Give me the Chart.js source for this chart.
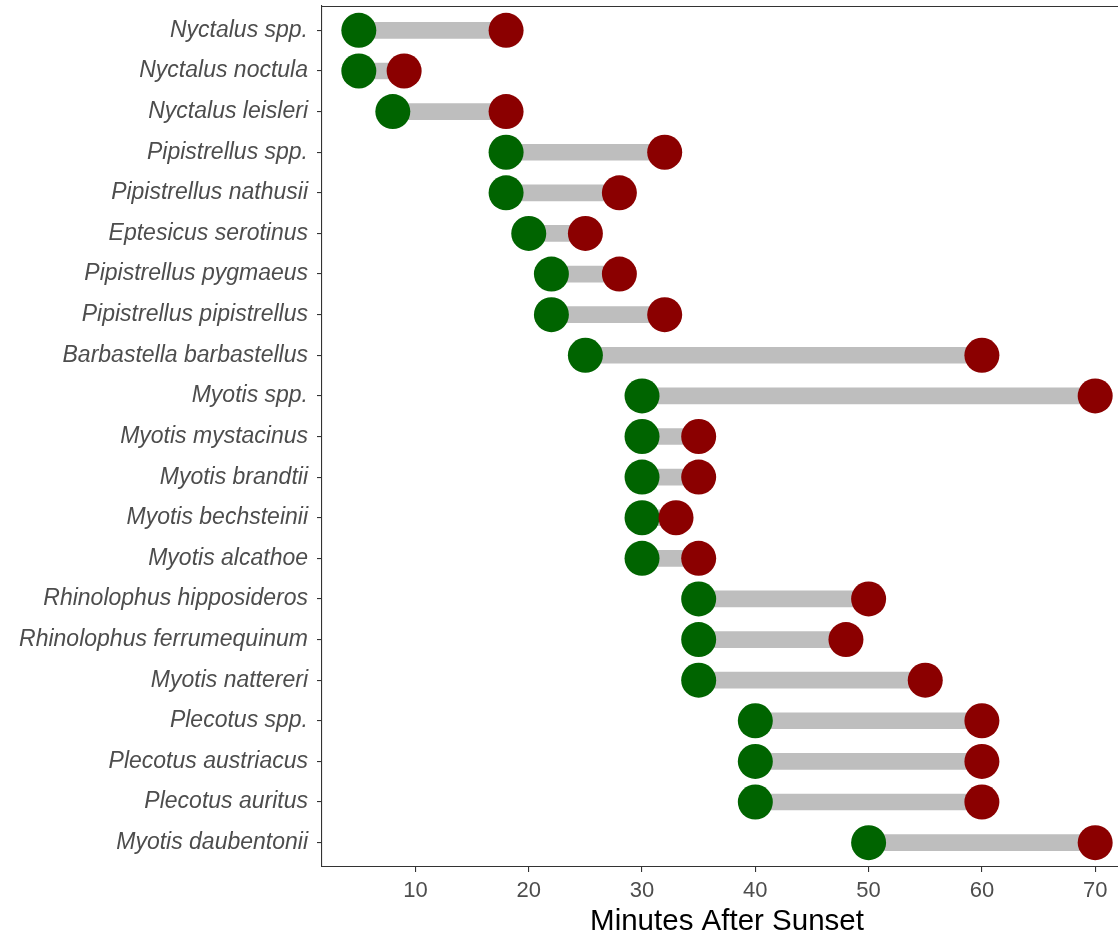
<!DOCTYPE html>
<html><head><meta charset="utf-8">
<script src="https://cdn.jsdelivr.net/npm/chart.js@4/dist/chart.umd.min.js"></script>
<style>
html,body{margin:0;padding:0;background:#fff;overflow:hidden;}
#wrap{width:1118px;height:937px;overflow:hidden;position:relative;}
canvas{display:block;}
</style></head>
<body><div id="wrap"><canvas id="c" width="1140" height="937"></canvas></div>
<script>
const species = ["Nyctalus spp.","Nyctalus noctula","Nyctalus leisleri","Pipistrellus spp.","Pipistrellus nathusii","Eptesicus serotinus","Pipistrellus pygmaeus","Pipistrellus pipistrellus","Barbastella barbastellus","Myotis spp.","Myotis mystacinus","Myotis brandtii","Myotis bechsteinii","Myotis alcathoe","Rhinolophus hipposideros","Rhinolophus ferrumequinum","Myotis nattereri","Plecotus spp.","Plecotus austriacus","Plecotus auritus","Myotis daubentonii"];
const firstEmergence = [5,5,8,18,18,20,22,22,25,30,30,30,30,30,35,35,35,40,40,40,50];
const lastEmergence  = [18,9,18,32,28,25,28,32,60,70,35,35,33,35,50,48,55,60,60,60,70];
const xTicks = [10,20,30,40,50,60,70];
const xTitle = "Minutes After Sunset";

const rowPos = species.map((s,i)=>i+1);
const FONT = '"Liberation Sans", Arial, sans-serif';

const framePlugin = {
  id:'frame',
  afterDraw(chart){
    const {ctx, chartArea:a} = chart;
    ctx.save();
    ctx.strokeStyle = '#333333';
    ctx.lineWidth = 1.1;
    ctx.beginPath();
    ctx.moveTo(a.left, a.top+0.5); ctx.lineTo(a.right, a.top+0.5);
    ctx.moveTo(a.right-0.5, a.top); ctx.lineTo(a.right-0.5, a.bottom);
    ctx.stroke();
    ctx.restore();
  }
};

new Chart(document.getElementById('c'), {
  type:'bar',
  data:{
    datasets:[
      {type:'line', label:'last', data: rowPos.map((y,i)=>({x:lastEmergence[i], y})), showLine:false,
       pointRadius:17.5, pointHoverRadius:17.5, pointBackgroundColor:'#8B0000', pointBorderWidth:0, borderWidth:0, order:0, clip:false},
      {type:'line', label:'first', data: rowPos.map((y,i)=>({x:firstEmergence[i], y})), showLine:false,
       pointRadius:17.5, pointHoverRadius:17.5, pointBackgroundColor:'#006400', pointBorderWidth:0, borderWidth:0, order:1, clip:false},
      {type:'bar', label:'range', data: rowPos.map((y,i)=>({x:[firstEmergence[i], lastEmergence[i]], y})),
       backgroundColor:'#BEBEBE', borderWidth:0, barThickness:16, grouped:false, order:2}
    ]
  },
  options:{
    indexAxis:'y',
    responsive:false,
    animation:false,
    events:[],
    layout:{autoPadding:false, padding:{top:6, left:0, right:8, bottom:0}},
    plugins:{legend:{display:false}, tooltip:{enabled:false}},
    scales:{
      x:{
        type:'linear', min:1.75, max:73.25, offset:false,
        afterBuildTicks(s){ s.ticks = xTicks.map(v=>({value:v})); },
        afterFit(s){ s.height = 70; },
        grid:{display:true, offset:false, drawOnChartArea:false, tickLength:5, color:'#333333', lineWidth:1.1},
        border:{display:true, color:'#333333', width:1.1},
        ticks:{color:'#4D4D4D', font:{family:FONT, size:22}, padding:6, maxRotation:0},
        title:{display:true, text:xTitle, color:'#000000', font:{family:FONT, size:29.5, lineHeight:1}, padding:{top:0,bottom:0}}
      },
      y:{
        type:'linear', min:0.4, max:21.6, reverse:true, offset:false,
        afterBuildTicks(s){ s.ticks = rowPos.map(v=>({value:v})); },
        afterFit(s){ s.width = 322; s.paddingTop = 0; s.paddingBottom = 0; },
        grid:{display:true, offset:false, drawOnChartArea:false, tickLength:5, color:'#333333', lineWidth:1.1},
        border:{display:true, color:'#333333', width:1.1},
        ticks:{color:'#4D4D4D', font:{family:FONT, size:23, style:'italic'}, padding:9,
               callback:(v)=>species[v-1] ?? ''}
      }
    }
  },
  plugins:[framePlugin]
});
</script></body></html>
